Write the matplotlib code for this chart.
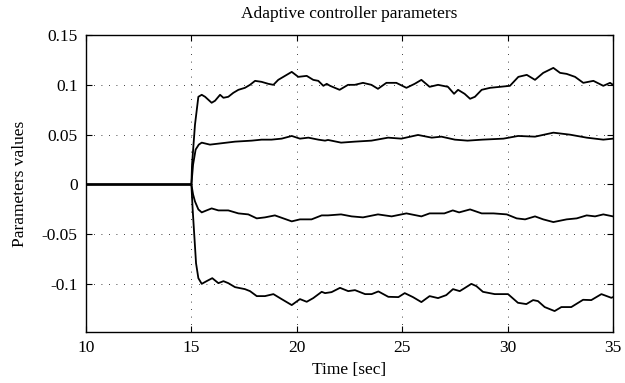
import numpy as np
import matplotlib
matplotlib.use("Agg")
import matplotlib.pyplot as plt

# Valores (tiempo en s, valor del parametro)
t_top = [10, 15.0, 15.03, 15.17, 15.33, 15.49, 15.65, 15.96, 16.12, 16.36, 16.52, 16.75, 16.99,
         17.23, 17.54, 17.78, 18.02, 18.33, 18.65, 18.89, 19.12, 19.44, 19.76, 20.07,
         20.47, 20.78, 21.02, 21.26, 21.42, 21.58, 22.03, 22.43, 22.75, 23.14, 23.54,
         23.85, 24.25, 24.72, 25.20, 25.59, 25.91, 26.30, 26.70, 27.17, 27.46, 27.65,
         27.96, 28.22, 28.45, 28.77, 29.17, 29.64, 30.11, 30.51, 30.91, 31.30, 31.69,
         32.17, 32.49, 32.80, 33.20, 33.59, 34.07, 34.54, 34.86, 35.0]
v_top = [0, 0, 0.02, 0.060, 0.088, 0.090, 0.088, 0.082, 0.084, 0.090, 0.087, 0.088, 0.092,
         0.095, 0.097, 0.100, 0.104, 0.103, 0.101, 0.100, 0.105, 0.109, 0.113, 0.108,
         0.109, 0.105, 0.104, 0.099, 0.101, 0.099, 0.095, 0.100, 0.100, 0.102, 0.100,
         0.096, 0.102, 0.102, 0.097, 0.101, 0.105, 0.098, 0.100, 0.098, 0.091, 0.095,
         0.091, 0.086, 0.088, 0.095, 0.097, 0.098, 0.099, 0.108, 0.110, 0.105, 0.112,
         0.117, 0.112, 0.111, 0.108, 0.102, 0.104, 0.099, 0.102, 0.100]

t_mid_hi = [10, 15.0, 15.08, 15.2, 15.35, 15.49, 15.88, 16.28, 17.07, 17.86, 18.33, 18.8,
            19.28, 19.76, 20.15, 20.55, 21.02, 21.34, 21.48, 22.1, 22.75, 23.54, 24.33,
            24.96, 25.75, 26.4, 26.86, 27.5, 28.1, 28.8, 29.8, 30.5, 31.3, 32.17, 32.96,
            33.75, 34.54, 35.0]
v_mid_hi = [0, 0, 0.020, 0.035, 0.040, 0.042, 0.040, 0.041, 0.043, 0.044, 0.045, 0.045,
            0.046, 0.0487, 0.046, 0.047, 0.045, 0.044, 0.0447, 0.042, 0.043, 0.044, 0.047,
            0.046, 0.0497, 0.047, 0.048, 0.045, 0.044, 0.045, 0.046, 0.0487, 0.048, 0.052,
            0.050, 0.047, 0.045, 0.046]

t_mid_lo = [10, 15.0, 15.08, 15.17, 15.33, 15.49, 15.72, 15.96, 16.28, 16.75, 17.23, 17.7,
            18.1, 18.49, 18.96, 19.36, 19.76, 20.15, 20.7, 21.18, 21.48, 22.1, 22.6, 23.14,
            23.85, 24.5, 25.2, 25.91, 26.3, 27.0, 27.4, 27.7, 28.22, 28.77, 29.33, 29.96,
            30.43, 30.83, 31.30, 31.69, 32.17, 32.8, 33.28, 33.75, 34.15, 34.54, 35.0]
v_mid_lo = [0, 0, -0.010, -0.017, -0.025, -0.028, -0.026, -0.024, -0.026, -0.026, -0.029,
            -0.030, -0.034, -0.033, -0.031, -0.034, -0.037, -0.035, -0.035, -0.031, -0.031,
            -0.030, -0.032, -0.033, -0.030, -0.032, -0.029, -0.032, -0.029, -0.029, -0.026,
            -0.028, -0.025, -0.029, -0.029, -0.030, -0.034, -0.035, -0.032, -0.035, -0.0377,
            -0.035, -0.034, -0.031, -0.032, -0.030, -0.032]

t_bot = [10, 15.0, 15.06, 15.14, 15.22, 15.33, 15.49, 15.72, 15.99, 16.28, 16.52, 16.75,
         17.07, 17.54, 17.78, 18.1, 18.49, 18.89, 19.28, 19.76, 20.15, 20.47, 20.78, 21.18,
         21.34, 21.65, 22.05, 22.44, 22.76, 23.24, 23.55, 23.87, 24.34, 24.82, 25.12, 25.51,
         25.91, 26.30, 26.70, 27.09, 27.41, 27.73, 27.96, 28.28, 28.52, 28.83, 29.39, 30.02,
         30.49, 30.89, 31.21, 31.44, 31.76, 32.23, 32.55, 33.02, 33.58, 33.97, 34.45, 34.92,
         35.0]
v_bot = [0, 0, -0.025, -0.052, -0.079, -0.094, -0.0997, -0.097, -0.094, -0.099, -0.097,
         -0.099, -0.103, -0.105, -0.107, -0.112, -0.112, -0.110, -0.115, -0.121, -0.115,
         -0.1177, -0.114, -0.1077, -0.109, -0.108, -0.1037, -0.107, -0.106, -0.110, -0.110,
         -0.1073, -0.1127, -0.113, -0.109, -0.113, -0.118, -0.112, -0.114, -0.111, -0.105,
         -0.107, -0.104, -0.0997, -0.102, -0.1077, -0.110, -0.110, -0.1187, -0.120, -0.116,
         -0.117, -0.123, -0.127, -0.123, -0.123, -0.1157, -0.116, -0.110, -0.1137, -0.113]

x_ticks = [10, 15, 20, 25, 30, 35]
y_ticks = [-0.1, -0.05, 0, 0.05, 0.1, 0.15]
y_labels = ["-0.1", "-0.05", "0", "0.05", "0.1", "0.15"]

plt.rcParams["font.family"] = ["Liberation Serif", "DejaVu Serif"]
plt.rcParams["font.size"] = 12.5

fig = plt.figure(figsize=(6.25, 3.83), dpi=100)
ax = fig.add_axes([0.1376, 0.1332, 0.8432, 0.7754])

for t, v in [(t_top, v_top), (t_mid_hi, v_mid_hi), (t_mid_lo, v_mid_lo), (t_bot, v_bot)]:
    ax.plot(t, v, color="black", lw=1.3)

ax.set_xlim(10, 35)
ax.set_ylim(-0.148, 0.15)
ax.set_xticks(x_ticks)
ax.set_yticks(y_ticks)
ax.set_yticklabels(y_labels)
ax.grid(True, linestyle=(0, (1, 8)), color="black", linewidth=0.6)
ax.tick_params(direction="in", top=True, right=True, length=4, pad=6)
for s in ax.spines.values():
    s.set_linewidth(1.0)

ax.set_title("Adaptive controller parameters", fontsize=12.5, pad=12)
ax.set_xlabel("Time [sec]", labelpad=4)
ax.set_ylabel("Parameters values", labelpad=10)

fig.savefig("out.png", dpi=100)
